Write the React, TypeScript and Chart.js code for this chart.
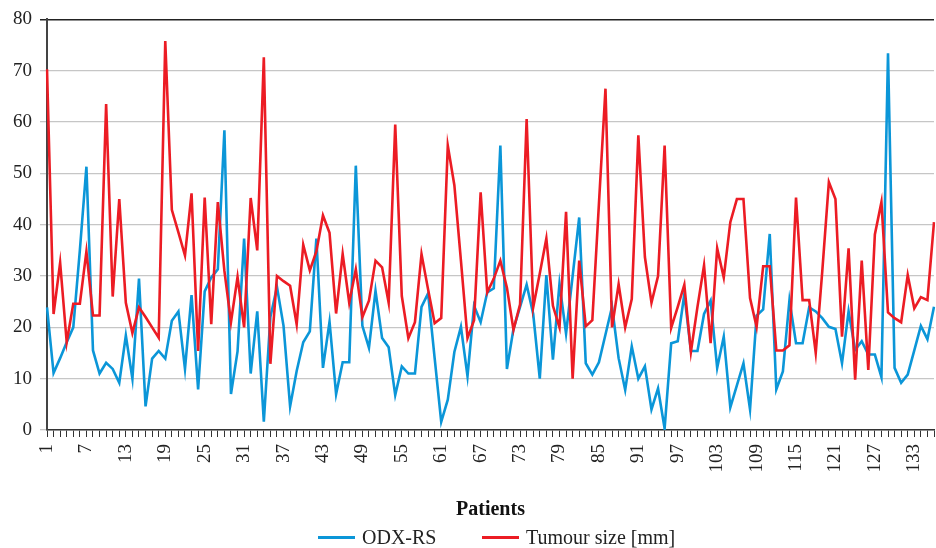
import React, { useEffect, useRef } from 'react';
import { Chart, registerables } from 'chart.js';

Chart.register(...registerables);

const patients: string[] = Array.from({ length: 136 }, (_, i) => String(i + 1));
const LABEL_STEP = 6;
const Y_MIN = 0;
const Y_MAX = 80;
const Y_STEP = 10;

const odxRs: number[] = [
  23.9, 11.1, 14, 17.1, 20, 35, 51.3, 15.5, 11, 13.1,
  11.9, 9.2, 18.4, 10, 29.5, 4.6, 13.9, 15.4, 13.9, 21.3,
  23.1, 11.9, 26.3, 7.9, 27, 29.7, 31.3, 58.4, 7, 15.3,
  37.3, 11, 23.1, 1.6, 22, 27.9, 20.3, 4.6, 11.5, 17.1,
  19.2, 37.3, 12.1, 21.1, 7, 13.2, 13.2, 51.5, 20.3, 16,
  27.1, 17.9, 16.1, 6.8, 12.4, 11, 11, 24, 26.6, 14,
  1.6, 5.9, 15.2, 20.1, 10.5, 24.2, 21, 26.8, 27.6, 55.4,
  11.9, 19.7, 24, 28.3, 22.6, 10, 30.2, 13.7, 28.5, 18.8,
  30, 41.4, 13, 10.8, 13.2, 18.6, 24, 14, 7.8, 16.3,
  10, 12.4, 4, 8.1, 0.3, 16.9, 17.3, 26.5, 15.4, 15.4,
  22.6, 25.2, 12.1, 18.2, 4.4, 8.7, 13, 4, 22.3, 23.5,
  38.2, 7.9, 11.4, 25.3, 16.9, 16.9, 23.9, 23.1, 21.8, 20.1,
  19.7, 13, 23.1, 15.6, 17.3, 14.7, 14.7, 10.3, 73.4, 12.1,
  9.2, 10.8, 15.5, 20.3, 17.7, 24,
];

const tumourSize: number[] = [
  70.3, 22.6, 32.6, 17.1, 24.6, 24.6, 34.8, 22.3, 22.3, 63.5,
  26, 45, 24.8, 18.9, 23.9, 22, 20, 18, 75.8, 42.9,
  38.5, 34, 46.1, 15.4, 45.3, 20.6, 44.4, 31, 21, 29.8,
  20, 45.2, 35, 72.6, 12.9, 30, 29, 28.1, 20.6, 36.1,
  31.1, 34.8, 41.8, 38.4, 22.7, 34.3, 24.8, 31.3, 22, 25.2,
  33, 31.7, 24.8, 59.5, 26.1, 17.9, 21, 34.3, 27.4, 20.8,
  21.8, 55.4, 47.7, 33, 17.9, 21.4, 46.3, 26.8, 29.5, 33,
  27.7, 19.5, 24.5, 60.6, 23.9, 30.5, 37.3, 24.2, 20, 42.5,
  10, 33, 20.2, 21.4, 44, 66.5, 20, 28.4, 20, 25.5,
  57.4, 33.7, 24.8, 30, 55.4, 19.9, 24, 28.3, 15.2, 24,
  32.1, 16.9, 35.4, 29.7, 40.5, 45, 45, 25.7, 20.1, 31.9,
  31.9, 15.5, 15.5, 16.5, 45.3, 25.3, 25.3, 15, 31, 48.3,
  45, 18.2, 35.4, 9.8, 33, 11.7, 38.1, 44.4, 22.9, 21.8,
  21, 30.2, 23.7, 25.9, 25.3, 40.5,
];

const SERIES_NAMES = ['ODX-RS', 'Tumour size [mm]'];
const X_TITLE = 'Patients';

const BLUE = '#0b96d8';
const RED = '#ec1c24';
const FONT = "'Liberation Serif', 'DejaVu Serif', serif";

export default function App() {
  const ref = useRef<HTMLCanvasElement>(null);

  useEffect(() => {
    if (!ref.current) return;
    const chart = new Chart(ref.current, {
      type: 'line',
      data: {
        labels: patients,
        datasets: [
          {
            label: SERIES_NAMES[0],
            data: odxRs,
            borderColor: BLUE,
            backgroundColor: BLUE,
            borderWidth: 2.6,
            pointRadius: 0,
            tension: 0,
            order: 1,
          },
          {
            label: SERIES_NAMES[1],
            data: tumourSize,
            borderColor: RED,
            backgroundColor: RED,
            borderWidth: 2.6,
            pointRadius: 0,
            tension: 0,
            order: 0,
          },
        ],
      },
      options: {
        animation: false,
        responsive: true,
        maintainAspectRatio: false,
        layout: { padding: { top: 17, right: 2, bottom: 26, left: 0 } },
        plugins: {
          legend: { display: false },
          tooltip: { enabled: false },
        },
        scales: {
          x: {
            type: 'category',
            offset: false,
            grid: {
              drawOnChartArea: false,
              drawTicks: true,
              tickLength: 7,
              color: '#333',
              lineWidth: 1,
            },
            border: { display: true, color: '#333', width: 1.5 },
            ticks: {
              autoSkip: false,
              maxRotation: 90,
              minRotation: 90,
              padding: 7,
              color: '#222',
              font: { family: FONT, size: 19 },
              callback: (_v: any, i: number) => (i % LABEL_STEP === 0 ? patients[i] : ''),
            },
            title: {
              display: true,
              text: X_TITLE,
              color: '#111',
              font: { family: FONT, size: 20, weight: 'bold' },
              padding: { top: 0, bottom: 0 },
            },
            afterFit: (s: any) => {
              s.height = 92;
              s.paddingRight = 0;
              s.paddingLeft = 0;
            },
          } as any,
          y: {
            min: Y_MIN,
            max: Y_MAX,
            ticks: {
              stepSize: Y_STEP,
              padding: 8,
              color: '#222',
              font: { family: FONT, size: 19 },
            },
            grid: {
              color: (ctx: any) => (ctx.tick && ctx.tick.value === Y_MAX ? '#222' : '#c6c6c6'),
              lineWidth: (ctx: any) => (ctx.tick && ctx.tick.value === Y_MAX ? 1.5 : 1.3),
              tickLength: 7,
            },
            border: { display: true, color: '#444', width: 2 },
            afterFit: (s: any) => {
              s.width = 47;
            },
          } as any,
        },
      },
    });
    return () => chart.destroy();
  }, []);

  const legendText: React.CSSProperties = {
    position: 'absolute',
    top: 526,
    fontFamily: FONT,
    fontSize: 20,
    lineHeight: '22px',
    color: '#222',
    whiteSpace: 'nowrap',
  };
  const legendLine = (color: string): React.CSSProperties => ({
    position: 'absolute',
    top: 535.5,
    width: 37,
    height: 3,
    background: color,
  });

  return (
    <div
      style={{
        position: 'fixed',
        left: 0,
        top: 0,
        width: 936,
        height: 548,
        overflow: 'hidden',
        background: '#fff',
      }}
    >
      <div style={{ position: 'absolute', left: 0, top: 0, width: 936, height: 548 }}>
        <canvas ref={ref} />
      </div>
      <div style={{ ...legendLine(BLUE), left: 318 }} />
      <span style={{ ...legendText, left: 362 }}>{SERIES_NAMES[0]}</span>
      <div style={{ ...legendLine(RED), left: 482 }} />
      <span style={{ ...legendText, left: 526 }}>{SERIES_NAMES[1]}</span>
    </div>
  );
}
